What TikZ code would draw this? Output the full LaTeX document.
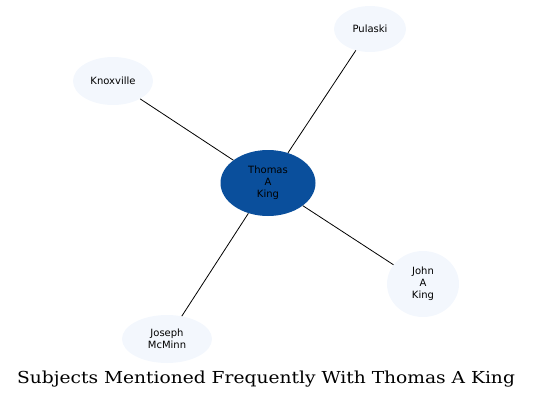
\documentclass[tikz,border=0pt]{standalone}
\usepackage{fontspec}
\newfontfamily\labelfont{DejaVu Sans}
\newfontfamily\titlefont{DejaVu Serif}
\usetikzlibrary{shapes.geometric}
\definecolor{hub}{HTML}{0A4F9C}
\definecolor{leaf}{HTML}{F3F7FD}
\begin{document}
\begin{tikzpicture}[x=1pt,y=-1pt,
  hubnode/.style={ellipse,fill=hub,draw=none,inner sep=0pt,minimum width=95pt,minimum height=66pt,align=center,font=\labelfont\fontsize{10}{12}\selectfont},
  leafnode/.style={ellipse,fill=leaf,draw=none,inner sep=0pt,align=center,font=\labelfont\fontsize{10}{12}\selectfont},
  link/.style={draw=black,line width=0.8pt}]
\useasboundingbox (0,0) rectangle (533,400);
\node[hubnode] (c) at (268,183) {Thomas\\A\\King};
\node[leafnode,minimum width=72pt,minimum height=46pt] (p) at (370,29) {Pulaski};
\node[leafnode,minimum width=80pt,minimum height=48pt] (k) at (113,81) {Knoxville};
\node[leafnode,minimum width=72pt,minimum height=66pt] (j) at (423,284) {John\\A\\King};
\node[leafnode,minimum width=90pt,minimum height=48pt] (m) at (167,339) {Joseph\\McMinn};
\draw[link] (c) -- (p);
\draw[link] (c) -- (k);
\draw[link] (c) -- (j);
\draw[link] (c) -- (m);
\node[font=\titlefont\fontsize{16.5}{18}\selectfont,inner sep=0pt,anchor=base] (t) at (266,383) {\scalebox{1.13}[1]{Subjects Mentioned Frequently With Thomas A King}};
\end{tikzpicture}
\end{document}
